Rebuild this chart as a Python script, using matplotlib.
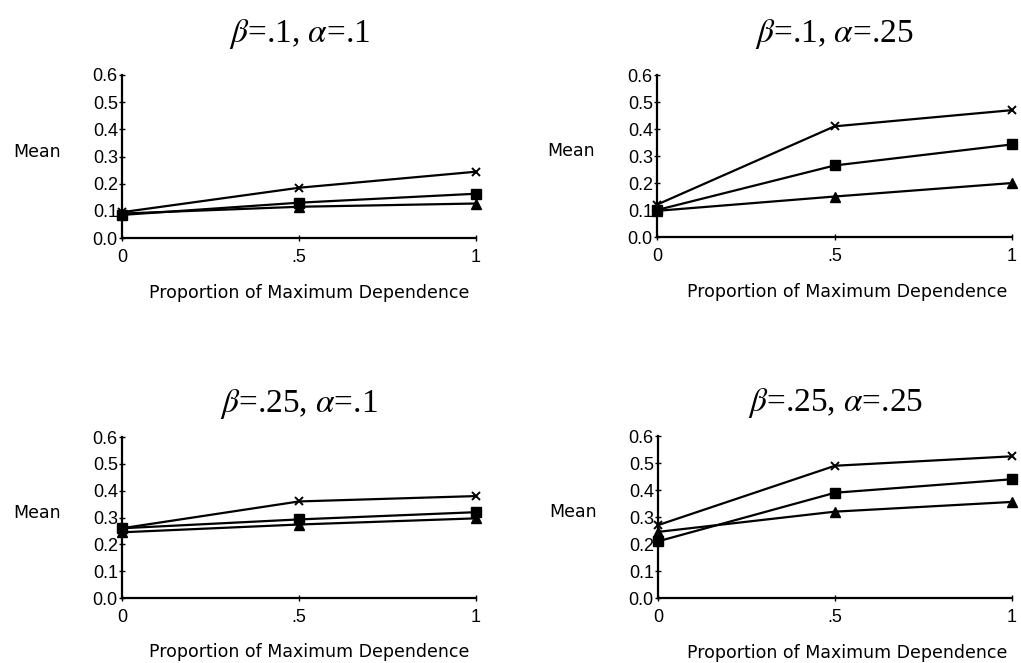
import numpy as np
import matplotlib.pyplot as plt

plt.rcParams['font.family'] = ['Liberation Sans', 'DejaVu Sans']
plt.rcParams['mathtext.fontset'] = 'stix'

# x positions: proportion of maximum dependence
prop = [0, 0.5, 1]
xtick_labels = ['0', '.5', '1']
ytick_vals = [0.0, 0.1, 0.2, 0.3, 0.4, 0.5, 0.6]

titles = [r'$\beta$=.1, $\alpha$=.1',
          r'$\beta$=.1, $\alpha$=.25',
          r'$\beta$=.25, $\alpha$=.1',
          r'$\beta$=.25, $\alpha$=.25']

# mean values per panel, one list per series (x, square, triangle)
cross_vals = [[0.095, 0.185, 0.244],
              [0.12, 0.41, 0.47],
              [0.26, 0.36, 0.38],
              [0.27, 0.49, 0.525]]
square_vals = [[0.085, 0.13, 0.163],
               [0.10, 0.265, 0.343],
               [0.26, 0.293, 0.32],
               [0.21, 0.39, 0.44]]
tri_vals = [[0.09, 0.115, 0.127],
            [0.097, 0.15, 0.20],
            [0.245, 0.274, 0.297],
            [0.245, 0.32, 0.356]]

# axes rectangles [left, bottom, width, height] in figure fractions
rects = [[0.1195, 0.641, 0.3467, 0.2459],
         [0.6435, 0.6425, 0.3477, 0.2443],
         [0.1195, 0.098, 0.3467, 0.2428],
         [0.6445, 0.098, 0.3467, 0.2443]]
title_pads = [24, 24, 18, 18]
xlabel_x = [0.528, 0.535, 0.528, 0.535]

label_font = ['DejaVu Sans']

fig = plt.figure(figsize=(10.21, 6.63), dpi=100)

for i in range(4):
  ax = fig.add_axes(rects[i])
  lw = 1.6
  ax.plot(prop, cross_vals[i], color='black', lw=lw, marker='x', ms=6, mew=1.4, clip_on=False, zorder=3)
  ax.plot(prop, square_vals[i], color='black', lw=lw, marker='s', ms=7, clip_on=False, zorder=3)
  ax.plot(prop, tri_vals[i], color='black', lw=lw, marker='^', ms=6.5, clip_on=False, zorder=3)

  ax.set_xlim(0, 1)
  ax.set_ylim(0, 0.6)
  ax.set_xticks(prop)
  ax.set_xticklabels(xtick_labels)
  ax.set_yticks(ytick_vals)
  ax.set_yticklabels(['{:.1f}'.format(v) for v in ytick_vals])
  for side in ['top', 'right']:
    ax.spines[side].set_visible(False)
  for side in ['left', 'bottom']:
    ax.spines[side].set_linewidth(1.6)
  ax.tick_params(axis='y', direction='inout', length=4, width=1, pad=1, labelsize=13)
  ax.tick_params(axis='x', direction='inout', length=4, width=1, pad=6, labelsize=13)

  ax.set_title(titles[i], fontsize=24, family=['Liberation Serif'], pad=title_pads[i])
  ax.text(-0.308, 0.53, 'Mean', transform=ax.transAxes, ha='left', va='center',
          fontsize=12.5, family=label_font)
  ax.text(xlabel_x[i], -0.337, 'Proportion of Maximum Dependence', transform=ax.transAxes,
          ha='center', va='center', fontsize=12.5, family=label_font)

fig.savefig('out.png', dpi=100)
